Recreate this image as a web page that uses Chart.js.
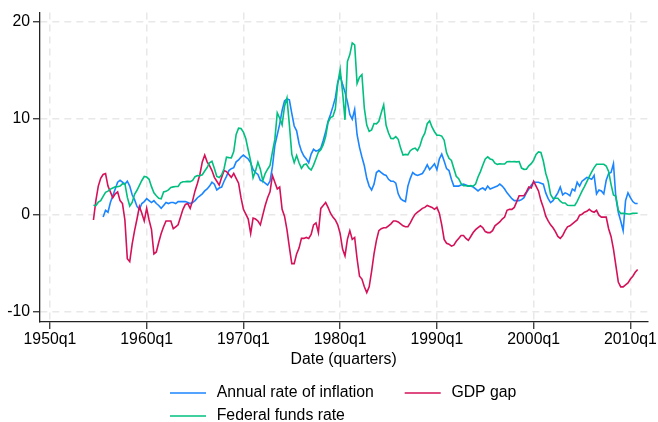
<!DOCTYPE html>
<html>
<head>
<meta charset="utf-8">
<script src="https://cdn.jsdelivr.net/npm/chart.js@4.4.1/dist/chart.umd.min.js"></script>
<style>
  html, body { margin: 0; padding: 0; background: #fff; }
  #wrap { width: 658px; height: 422px; }
</style>
</head>
<body>
<div id="wrap"><canvas id="macro" width="658" height="422"></canvas></div>
<script>
// ── DATA ───────────────────────────────────────────────────────
// quarterly series, first observation 1954q3 (one row per year)
const firstQuarter = '1954q3';

const inflation = [
  null, null,
  null, null, -0.2, 0.5,
  0.3, 1.3, 2.0, 2.7,
  3.4, 3.6, 3.4, 3.2,
  3.5, 3.0, 2.1, 1.6,
  0.9, 0.6, 1.2, 1.4,
  1.7, 1.5, 1.3, 1.5,
  1.2, 1.0, 0.7, 1.0,
  1.3, 1.2, 1.3, 1.3,
  1.2, 1.4, 1.4, 1.4,
  1.4, 1.3, 1.2, 1.3,
  1.5, 1.8, 2.0, 2.2,
  2.5, 2.7, 3.0, 3.4,
  3.2, 2.6, 2.8, 2.9,
  3.5, 4.0, 4.6, 4.8,
  4.9, 5.5, 5.7, 6.0,
  6.2, 6.0, 5.8, 5.4,
  4.7, 4.4, 4.2, 3.6,
  3.5, 3.3, 3.1, 3.5,
  5.0, 7.2, 8.3, 9.4,
  10.8, 11.8, 12.0, 11.9,
  10.5, 9.2, 8.7, 7.4,
  6.6, 6.1, 5.8, 5.4,
  6.3, 6.8, 6.6, 6.7,
  6.9, 7.7, 8.6, 9.7,
  10.4, 11.2, 12.1, 13.7,
  14.4, 13.5, 12.7, 11.7,
  10.4, 9.9, 10.9, 8.3,
  7.0, 6.0, 5.1, 3.8,
  3.0, 2.6, 3.2, 4.4,
  4.6, 4.4, 4.2, 4.1,
  3.7, 3.5, 3.5, 3.3,
  2.2, 1.7, 1.5, 1.4,
  3.0, 3.8, 4.4, 4.2,
  4.1, 4.2, 4.3, 4.7,
  5.2, 4.7, 5.0, 5.3,
  4.7, 5.8, 6.3, 5.6,
  4.8, 4.6, 3.7, 3.0,
  3.0, 3.0, 3.1, 3.2,
  3.1, 3.0, 3.0, 2.9,
  2.7, 2.5, 2.7, 2.8,
  2.6, 3.0, 2.7, 2.8,
  2.9, 3.0, 3.2, 3.0,
  2.7, 2.3, 2.0, 1.7,
  1.5, 1.5, 1.5, 1.6,
  1.8, 2.3, 2.7, 3.1,
  3.4, 3.4, 3.4, 3.3,
  3.2, 2.3, 1.7, 1.3,
  1.5, 1.9, 2.3, 2.9,
  2.1, 2.3, 2.2, 2.0,
  2.7, 2.5, 3.4, 3.0,
  3.5, 3.7, 3.9, 3.8,
  3.7, 4.1, 2.2, 2.6,
  2.5, 2.2, 3.6, 4.3,
  4.4, 5.3, 1.8, 0.3,
  -0.6, -1.6, 1.5, 2.3,
  1.8, 1.4, 1.2, 1.2
];

const gdpGap = [
  -0.5, 1.5,
  3.0, 3.8, 4.2, 4.3,
  3.0, 2.4, 1.8, 2.2,
  2.4, 1.5, 1.2, -0.5,
  -4.5, -4.8, -3.0, -1.6,
  -0.4, 0.9, 0.2, -0.6,
  0.7, -0.5, -1.5, -4.0,
  -3.8, -2.8, -1.9, -1.2,
  -0.6, -0.6, -0.6, -1.4,
  -1.2, -1.0, -0.2, 0.6,
  1.1, 1.2, 0.7, 1.5,
  2.5, 3.3, 4.2, 5.5,
  6.2, 5.5, 5.1, 4.6,
  3.9, 3.5, 3.1, 3.9,
  4.6, 4.5, 4.2, 3.9,
  4.3, 3.8, 3.3, 1.8,
  0.6, 0.1, -0.4, -1.9,
  -0.3, -0.4, -0.6, -1.0,
  0.0, 1.0, 1.8, 2.4,
  4.1, 3.4, 2.7, 2.9,
  0.6, -0.1, -1.5, -3.3,
  -5.0, -5.0, -4.0, -3.4,
  -2.4, -2.4, -2.3, -2.4,
  -2.0, -1.0, -0.8, -1.8,
  0.7, 1.0, 1.3, 0.8,
  0.2, -0.2, -0.5, -1.0,
  -1.9, -3.5, -4.2, -2.5,
  -1.6, -2.5, -2.3, -4.5,
  -6.3, -6.6, -7.4, -8.0,
  -7.4, -5.8, -4.0, -2.6,
  -1.6, -1.4, -1.3, -1.3,
  -1.1, -0.9, -0.6, -0.6,
  -0.7, -0.9, -1.1, -1.2,
  -1.2, -0.8, -0.3, 0.1,
  0.3, 0.5, 0.7, 0.8,
  1.0, 0.9, 0.8, 0.6,
  0.8, 0.2, -1.0, -2.5,
  -2.9, -3.0, -3.2, -3.1,
  -2.7, -2.4, -2.1, -2.1,
  -2.4, -2.6, -2.2, -1.8,
  -1.5, -1.3, -1.1, -1.3,
  -1.7, -1.8, -1.8, -1.6,
  -1.1, -0.9, -0.7, -0.4,
  -0.2, 0.5, 0.6, 0.6,
  0.8, 1.4, 2.0, 2.0,
  2.0, 2.4, 2.9, 2.8,
  3.5, 3.0, 2.5, 1.5,
  0.8, -0.1, -0.6, -1.0,
  -1.3, -1.7, -2.2, -2.4,
  -2.1, -1.6, -1.2, -1.1,
  -0.9, -0.7, -0.5, 0.0,
  0.1, 0.3, 0.4, 0.6,
  0.4, 0.3, 0.5, 0.0,
  -0.2, -0.2, -0.2, -1.4,
  -2.2, -3.5, -5.2, -6.9,
  -7.4, -7.4, -7.2, -7.0,
  -6.6, -6.3, -5.9, -5.6
];

const fedFunds = [
  1.03, 0.99,
  1.34, 1.50, 1.94, 2.36,
  2.48, 2.69, 2.81, 2.93,
  2.93, 3.00, 3.23, 3.25,
  1.86, 0.94, 1.32, 2.16,
  2.57, 3.08, 3.58, 3.99,
  3.93, 3.70, 2.94, 2.30,
  2.00, 1.73, 1.68, 2.40,
  2.46, 2.61, 2.85, 2.92,
  2.96, 2.96, 3.33, 3.45,
  3.46, 3.49, 3.46, 3.58,
  3.97, 4.08, 4.07, 4.17,
  4.56, 4.91, 5.41, 5.56,
  4.82, 3.99, 3.89, 4.17,
  4.79, 5.98, 5.94, 5.92,
  6.57, 8.33, 8.98, 8.94,
  8.57, 7.88, 6.70, 5.57,
  3.86, 4.56, 5.47, 4.75,
  3.55, 4.30, 4.74, 5.14,
  6.54, 7.82, 10.56, 10.00,
  9.32, 11.25, 12.09, 9.35,
  6.30, 5.42, 6.16, 5.41,
  4.83, 5.20, 5.28, 4.87,
  4.66, 5.16, 5.82, 6.51,
  6.76, 7.28, 8.10, 9.58,
  10.07, 10.18, 10.95, 13.58,
  15.05, 12.69, 9.84, 15.85,
  16.57, 17.78, 17.58, 13.59,
  14.23, 14.51, 11.01, 9.29,
  8.65, 8.80, 9.46, 9.43,
  9.69, 10.56, 11.39, 9.27,
  8.48, 7.92, 7.90, 8.10,
  7.83, 6.92, 6.21, 6.27,
  6.22, 6.65, 6.84, 6.92,
  6.66, 7.16, 7.98, 8.47,
  9.44, 9.73, 9.08, 8.61,
  8.25, 8.24, 8.16, 7.74,
  6.43, 5.86, 5.64, 4.82,
  4.02, 3.77, 3.26, 3.04,
  3.04, 3.00, 3.06, 2.99,
  3.21, 3.94, 4.49, 5.17,
  5.81, 6.02, 5.80, 5.72,
  5.36, 5.24, 5.31, 5.28,
  5.28, 5.52, 5.53, 5.51,
  5.52, 5.50, 5.53, 4.86,
  4.73, 4.75, 5.09, 5.31,
  5.68, 6.27, 6.52, 6.47,
  5.59, 4.33, 3.50, 2.13,
  1.73, 1.75, 1.74, 1.44,
  1.25, 1.25, 1.02, 1.00,
  1.00, 1.01, 1.43, 1.95,
  2.47, 2.94, 3.46, 3.98,
  4.46, 4.91, 5.25, 5.25,
  5.26, 5.25, 5.07, 4.50,
  3.18, 2.09, 1.94, 0.51,
  0.18, 0.18, 0.16, 0.12,
  0.13, 0.19, 0.19, 0.19
];

const xTickLabels = ['1950q1', '1960q1', '1970q1', '1980q1', '1990q1', '2000q1', '2010q1'];
const yTicks = [-10, 0, 10, 20];

// ── HELPERS ────────────────────────────────────────────────────
// quarters counted from 1960q1, like Stata's %tq
const toQuarter = label => {
  const [y, q] = label.split('q');
  return (+y - 1960) * 4 + (+q - 1);
};
const start = toQuarter(firstQuarter);
const points = vals => vals.map((v, i) => ({ x: start + i, y: v }));

const FONT = "'Liberation Sans', Arial, Helvetica, sans-serif";
const font = { family: FONT, size: 15.8 };
const gridColor = '#e8e8e8';
const axisColor = '#222';

// two-column legend under the axis title
const legendBlock = {
  id: 'legendBlock',
  afterDraw(chart) {
    const { ctx } = chart;
    const slots = [
      { ds: 0, col: 0, row: 0 },
      { ds: 1, col: 1, row: 0 },
      { ds: 2, col: 0, row: 1 },
    ];
    const left = 170, colW = 234.7, rowY = [393, 416], lineLen = 36, gap = 10.7;
    ctx.save();
    ctx.font = `${font.size}px ${FONT}`;
    ctx.textBaseline = 'middle';
    ctx.fillStyle = '#000';
    slots.forEach(s => {
      const ds = chart.data.datasets[s.ds];
      const x = left + s.col * colW, y = rowY[s.row];
      ctx.strokeStyle = ds.borderColor;
      ctx.lineWidth = 1.6;
      ctx.beginPath();
      ctx.moveTo(x, y);
      ctx.lineTo(x + lineLen, y);
      ctx.stroke();
      ctx.fillText(ds.label, x + lineLen + gap, y);
    });
    ctx.restore();
  }
};

const lineStyle = { borderWidth: 1.6, pointRadius: 0, tension: 0, fill: false, spanGaps: false };

new Chart(document.getElementById('macro'), {
  type: 'line',
  data: {
    datasets: [
      { label: 'Annual rate of inflation', data: points(inflation), borderColor: '#1a85ff', order: 2, ...lineStyle },
      { label: 'GDP gap', data: points(gdpGap), borderColor: '#d41159', order: 1, ...lineStyle },
      { label: 'Federal funds rate', data: points(fedFunds), borderColor: '#00bf7f', order: 0, ...lineStyle },
    ]
  },
  options: {
    responsive: false,
    animation: false,
    layout: { padding: { top: 10, right: 9, bottom: 0, left: 0 } },
    plugins: { legend: { display: false }, tooltip: { enabled: false } },
    scales: {
      x: {
        type: 'linear',
        min: -44.1,
        max: 207,
        afterBuildTicks: s => { s.ticks = xTickLabels.map(l => ({ value: toQuarter(l) })); },
        afterFit: s => { s.height = 100; },
        ticks: {
          font, color: '#000', padding: 1, maxRotation: 0, autoSkip: false,
          callback: v => xTickLabels.find(l => toQuarter(l) === v)
        },
        grid: { color: gridColor, lineWidth: 1.5, tickLength: 7, tickColor: axisColor, tickWidth: 1.2, tickBorderDash: [] },
        border: { color: axisColor, width: 1.3, dash: [7, 5] },
        title: { display: true, text: 'Date (quarters)', font, color: '#000', padding: { top: 0, bottom: 53 } }
      },
      y: {
        min: -11.03,
        max: 20.92,
        afterBuildTicks: s => { s.ticks = yTicks.map(v => ({ value: v })); },
        afterFit: s => { s.width = 40; },
        ticks: { font, color: '#000', padding: 3 },
        grid: { color: gridColor, lineWidth: 1.5, tickLength: 7, tickColor: axisColor, tickWidth: 1.2, tickBorderDash: [] },
        border: { color: axisColor, width: 1.3, dash: [7, 5] }
      }
    }
  },
  plugins: [legendBlock]
});
</script>
</body>
</html>
